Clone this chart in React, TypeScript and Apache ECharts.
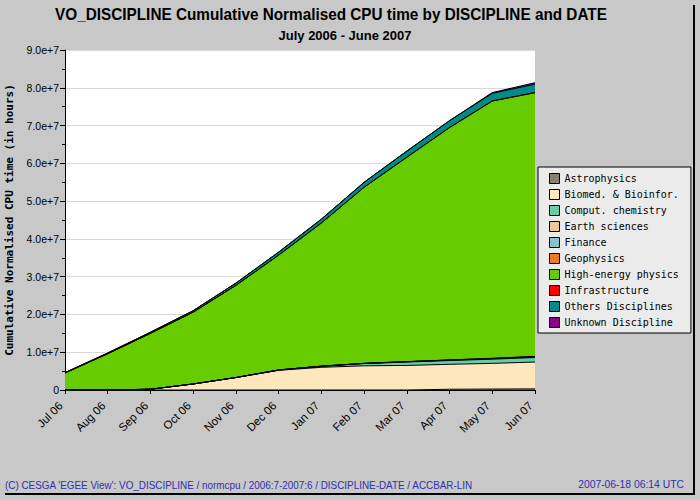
import React, { useEffect, useRef } from "react";
import * as echarts from "echarts";

const months = ["Jul 06", "Aug 06", "Sep 06", "Oct 06", "Nov 06", "Dec 06", "Jan 07", "Feb 07", "Mar 07", "Apr 07", "May 07", "Jun 07"];

const astrophysics = [0, 0, 0, 0, 0, 0, 0, 0, 0, 0.2e6, 0.25e6, 0.3e6];
const biomed = [0, 0, 0.2e6, 1.6e6, 3.3e6, 5.2e6, 6.0e6, 6.4e6, 6.5e6, 6.6e6, 6.8e6, 7.1e6];
const computChem = [0, 0, 0, 0, 0, 0.1e6, 0.3e6, 0.6e6, 0.9e6, 1.0e6, 1.1e6, 1.2e6];
const earthSciences = [0, 0, 0, 0, 0, 0, 0, 0.05e6, 0.1e6, 0.1e6, 0.15e6, 0.2e6];
const finance = [0, 0, 0, 0, 0, 0, 0, 0, 0, 0.05e6, 0.05e6, 0.05e6];
const geophysics = [0, 0, 0, 0, 0, 0, 0, 0, 0, 0, 0.03e6, 0.05e6];
const highEnergy = [4.5e6, 9.6e6, 14.8e6, 19.0e6, 24.4e6, 30.4e6, 37.9e6, 46.6e6, 54.1e6, 61.5e6, 68.1e6, 69.8e6];
const infrastructure = [0, 0, 0, 0, 0, 0, 0.02e6, 0.03e6, 0.04e6, 0.05e6, 0.05e6, 0.05e6];
const others = [0.1e6, 0.2e6, 0.3e6, 0.4e6, 0.6e6, 0.8e6, 1.0e6, 1.3e6, 1.6e6, 1.8e6, 2.0e6, 2.2e6];
const unknown = [0, 0, 0, 0, 0, 0, 0, 0, 0, 0, 0.2e6, 0.4e6];

const seriesDefs = [
  { name: "Astrophysics", color: "#8b7f6f", data: astrophysics },
  { name: "Biomed. & Bioinfor.", color: "#ffe7bd", data: biomed },
  { name: "Comput. chemistry", color: "#66cdaa", data: computChem },
  { name: "Earth sciences", color: "#eec893", data: earthSciences },
  { name: "Finance", color: "#7fc4cf", data: finance },
  { name: "Geophysics", color: "#ef7a26", data: geophysics },
  { name: "High-energy physics", color: "#66cc00", data: highEnergy },
  { name: "Infrastructure", color: "#ff0000", data: infrastructure },
  { name: "Others Disciplines", color: "#008b8b", data: others },
  { name: "Unknown Discipline", color: "#8b008b", data: unknown },
];

const TITLE = "VO_DISCIPLINE Cumulative Normalised CPU time by DISCIPLINE and DATE";
const SUBTITLE = "July 2006 - June 2007";
const FOOTER_LEFT = "(C) CESGA 'EGEE View': VO_DISCIPLINE / normcpu / 2006:7-2007:6 / DISCIPLINE-DATE / ACCBAR-LIN";
const FOOTER_RIGHT = "2007-06-18 06:14 UTC";

const narrow = '"Liberation Sans Narrow", "Liberation Sans", Arial, sans-serif';

function fitScale(text: string, font: string, target: number): number {
  const c = document.createElement("canvas").getContext("2d");
  if (!c) return 1;
  c.font = font;
  const w = c.measureText(text).width;
  return w > 0 ? target / w : 1;
}

export default function App() {
  const ref = useRef<HTMLDivElement>(null);
  useEffect(() => {
    if (!ref.current) return;
    const chart = echarts.init(ref.current, null, { renderer: "svg" });
    const titleFont = `bold 17px ${narrow}`;
    const subFont = `bold 13px ${narrow}`;
    const footFont = '10px "Liberation Sans", sans-serif';
    chart.setOption({
      animation: false,
      backgroundColor: "#c8c8c8",
      grid: {
        left: 65,
        right: 165,
        top: 50,
        bottom: 110,
        show: true,
        backgroundColor: "#ffffff",
        borderWidth: 0,
        containLabel: false,
        outerBoundsMode: "none",
      },
      legend: {
        orient: "vertical",
        left: 538,
        top: 167,
        padding: [6, 12, 5, 11],
        itemGap: 5,
        itemWidth: 10,
        itemHeight: 10,
        icon: "rect",
        itemStyle: { borderColor: "#000", borderWidth: 1 },
        backgroundColor: "#ebebeb",
        borderColor: "#000",
        borderWidth: 1,
        borderRadius: 0,
        textStyle: { fontFamily: '"DejaVu Sans Mono", monospace', fontSize: 10, color: "#000", lineHeight: 11 },
        selectedMode: false,
      },
      xAxis: {
        type: "category",
        data: months,
        boundaryGap: false,
        axisLine: { lineStyle: { color: "#000", width: 1 } },
        axisTick: { show: true, interval: 0, length: 4, lineStyle: { color: "#000" } },
        axisLabel: {
          rotate: 45,
          interval: 0,
          margin: 18,
          verticalAlign: "bottom",
          fontFamily: '"Liberation Sans", Arial, sans-serif',
          fontSize: 11.5,
          color: "#000",
        },
        splitLine: { show: false },
      },
      yAxis: {
        type: "value",
        min: 0,
        max: 9e7,
        interval: 1e7,
        name: "Cumulative Normalised CPU time (in hours)",
        nameLocation: "middle",
        nameGap: 50,
        nameTextStyle: { fontFamily: '"DejaVu Sans Mono", monospace', fontWeight: "bold", fontSize: 11, color: "#000" },
        axisLine: { show: true, lineStyle: { color: "#000", width: 1 } },
        axisTick: { show: true, length: 5, lineStyle: { color: "#000" } },
        minorTick: { show: true, splitNumber: 2, length: 3, lineStyle: { color: "#000" } },
        axisLabel: {
          margin: 6,
          fontFamily: '"Liberation Sans", Arial, sans-serif',
          fontSize: 10.5,
          color: "#000",
          formatter: (v: number) => (v === 0 ? "0" : v.toExponential(1)),
        },
        splitLine: { show: true, lineStyle: { color: "#d8d8d8", width: 1 } },
      },
      series: seriesDefs.map((s) => ({
        name: s.name,
        type: "line",
        stack: "total",
        data: s.data,
        symbol: "none",
        showSymbol: false,
        itemStyle: { color: s.color },
        lineStyle: { color: "#000", width: 1 },
        areaStyle: { color: s.color, opacity: 1 },
        emphasis: { disabled: true },
      })),
      graphic: [
        {
          type: "text",
          x: 331,
          y: 14,
          scaleX: fitScale(TITLE, titleFont, 552),
          style: { text: TITLE, align: "center", verticalAlign: "middle", font: titleFont, fill: "#000" },
        },
        {
          type: "text",
          x: 345,
          y: 35,
          scaleX: fitScale(SUBTITLE, subFont, 133),
          style: { text: SUBTITLE, align: "center", verticalAlign: "middle", font: subFont, fill: "#000" },
        },
        {
          type: "text",
          x: 5,
          y: 485,
          scaleX: fitScale(FOOTER_LEFT, footFont, 469),
          style: { text: FOOTER_LEFT, align: "left", verticalAlign: "middle", font: footFont, fill: "#3030b0" },
        },
        {
          type: "text",
          x: 684,
          y: 485,
          scaleX: fitScale(FOOTER_RIGHT, footFont, 106),
          style: { text: FOOTER_RIGHT, align: "right", verticalAlign: "middle", font: footFont, fill: "#3030b0" },
        },
        { type: "line", shape: { x1: 694, y1: 5, x2: 694, y2: 495 }, style: { stroke: "#000", lineWidth: 2 } },
        { type: "line", shape: { x1: 5, y1: 494, x2: 695, y2: 494 }, style: { stroke: "#000", lineWidth: 2 } },
      ],
    });
    return () => chart.dispose();
  }, []);
  return <div ref={ref} style={{ position: "fixed", left: 0, top: 0, width: 700, height: 500 }} />;
}
